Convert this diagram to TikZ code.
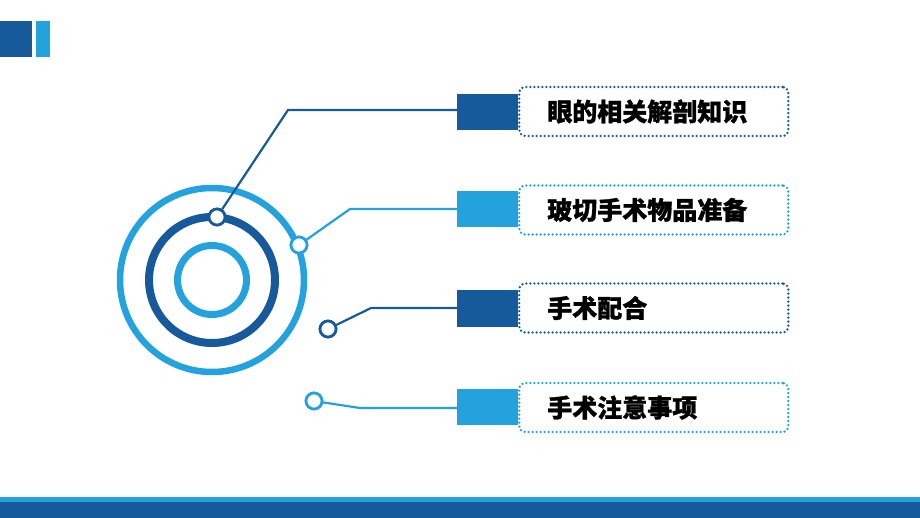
\documentclass[tikz,border=0pt]{standalone}
\usepackage{fontspec}
\newfontfamily\cjk{Noto Sans CJK SC}[BoldFeatures={FakeBold=1.2}]
\definecolor{dblue}{HTML}{175A9C}
\definecolor{lblue}{HTML}{24A2DD}
\begin{document}
\begin{tikzpicture}[x=1pt,y=-1pt,
  ring/.style={line width=#1},
  dot/.style={circle,draw,fill=white,line width=2.7pt,minimum size=16pt,inner sep=0pt},
  wire/.style={line width=2.2pt,line join=miter},
  tab/.style={rectangle,minimum width=61pt,minimum height=36pt,inner sep=0pt},
  label box/.style={rectangle,rounded corners=6pt,line width=2.6pt,line cap=round,
    dash pattern=on 0pt off 4pt,minimum width=269pt,minimum height=49pt,
    inner xsep=28pt,inner ysep=0pt,text width=213pt,align=left,
    font=\cjk\bfseries\fontsize{25}{27}\selectfont,text=black}]
\useasboundingbox (0,0) rectangle (920,518);
% header marks
\fill[dblue] (0,21) rectangle (32,57);
\fill[lblue] (36,21) rectangle (50,57);
% bottom bars
\fill[lblue] (0,497) rectangle (920,503);
\fill[dblue] (0,502) rectangle (920,518);
% concentric rings
\coordinate (ctr) at (212,280);
\draw[lblue,ring=6.5pt] (ctr) circle[radius=92];
\draw[dblue,ring=8pt] (ctr) circle[radius=63];
\draw[lblue,ring=7pt] (ctr) circle[radius=34.5];
% tabs
\node[tab,fill=dblue] (r1) at (487.5,112) {};
\node[tab,fill=lblue] (r2) at (487.5,209.5) {};
\node[tab,fill=dblue] (r3) at (487.5,308.5) {};
\node[tab,fill=lblue] (r4) at (487.5,407) {};
% dotted label boxes
\node[label box,draw=dblue,anchor=west] (b1) at (518,111.5) {眼的相关解剖知识};
\node[label box,draw=lblue,anchor=west] (b2) at (518,210) {玻切手术物品准备};
\node[label box,draw=dblue,anchor=west] (b3) at (518,308) {手术配合};
\node[label box,draw=lblue,anchor=west] (b4) at (518,407.5) {手术注意事项};
% small circles (positions)
\node[dot,draw=dblue] (c1) at (217,217) {};
\node[dot,draw=lblue] (c2) at (299,245) {};
\node[dot,draw=dblue] (c3) at (328,329) {};
\node[dot,draw=lblue] (c4) at (314,401) {};
\coordinate (k1) at (288,110);
\coordinate (k2) at (350,209);
\coordinate (k3) at (371,308);
\coordinate (k4) at (360,408);
% wires
\draw[wire,dblue] (c1) -- (k1) -- (k1 -| r1.west);
\draw[wire,lblue] (c2) -- (k2) -- (k2 -| r2.west);
\draw[wire,dblue] (c3) -- (k3) -- (k3 -| r3.west);
\draw[wire,lblue] (c4) -- (k4) -- (k4 -| r4.west);
% redraw circles on top
\node[dot,draw=dblue] at (c1) {};
\node[dot,draw=lblue] at (c2) {};
\node[dot,draw=dblue] at (c3) {};
\node[dot,draw=lblue] at (c4) {};
\end{tikzpicture}
\end{document}
